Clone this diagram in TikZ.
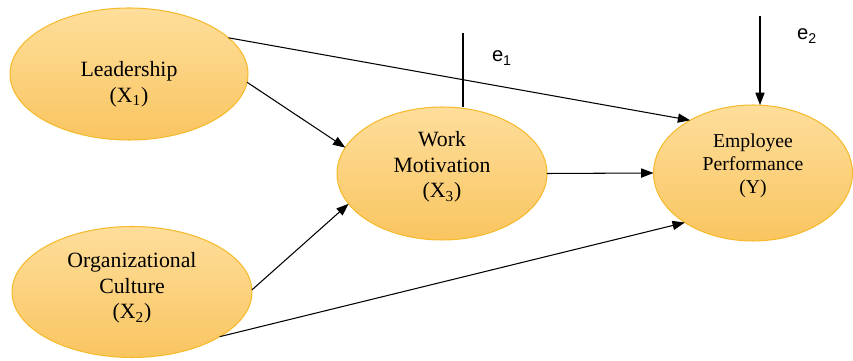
\documentclass[tikz,border=0pt]{standalone}
\usepackage{fontspec}
\setmainfont{Liberation Serif}
\newfontfamily\errfont{Liberation Sans}
\usetikzlibrary{arrows.meta,shapes.geometric}

\definecolor{ellTop}{RGB}{254,222,155}
\definecolor{ellBot}{RGB}{249,197,96}
\definecolor{ellLine}{RGB}{246,186,45}

\tikzset{
  var/.style={ellipse, draw=ellLine, line width=0.6pt, top color=ellTop,
    bottom color=ellBot, inner sep=0pt, outer sep=0pt},
  vartext/.style={align=center, font=\fontsize{12.4}{14.6}\selectfont},
  errlabel/.style={font=\errfont\fontsize{11.5}{13}\selectfont},
  path/.style={line width=0.6pt, -{Triangle[length=7pt,width=5.2pt]}}
}

\begin{document}
\begin{tikzpicture}[x=0.02cm,y=-0.02cm]
\useasboundingbox (0,0) rectangle (853,361);

% latent variables
\node[var, minimum width=4.76cm, minimum height=2.64cm] (lead) at (129,74) {};
\node[vartext] (leadtext) at (129,84) {Leadership\\(X\textsubscript{1})};
\node[var, minimum width=4.8cm, minimum height=2.62cm] (org) at (132,292) {};
\node[vartext] (orgtext) at (132,288) {Organizational\\Culture\\(X\textsubscript{2})};
\node[var, minimum width=4.2cm, minimum height=2.66cm] (wm) at (442,173.5) {};
\node[vartext] (wmtext) at (442,167) {Work\\Motivation\\(X\textsubscript{3})};
\node[var, minimum width=3.98cm, minimum height=2.72cm] (ep) at (753,173) {};
\node[vartext, font=\fontsize{11.2}{13.1}\selectfont] (eptext) at (753,166)
    {Employee\\Performance\\(Y)};

% error terms
\coordinate (e1top) at (463,33);
\coordinate (e2top) at (760,16);
\node[errlabel] (e1) at (502,58) {e\textsubscript{1}};
\node[errlabel] (e2) at (807,36) {e\textsubscript{2}};
\draw[line width=0.6pt] (e1top) -- (e1top |- wm.north);
\draw[path] (e2top) -- (e2top |- ep.north);

% paths
\draw[path] (lead.-4) -- (wm.165);
\draw[path] (lead.20) -- (ep.140);
\draw[path] (org.1) -- (wm.198);
\draw[path] (org.-27) -- (ep.216);
\draw[path] (wm.0) -- (ep.180);
\end{tikzpicture}
\end{document}
